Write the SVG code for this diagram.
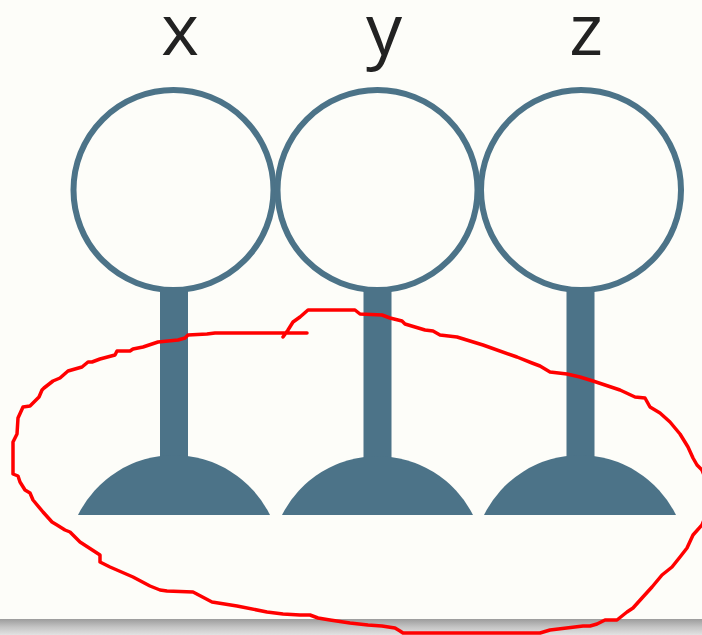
<svg xmlns="http://www.w3.org/2000/svg" width="702" height="635" viewBox="0 0 702 635">
  <defs>
    <linearGradient id="barGrad" x1="0" y1="0" x2="0" y2="1">
      <stop offset="0" stop-color="#9c9c9c"/>
      <stop offset="0.5" stop-color="#c4c4c4"/>
      <stop offset="1" stop-color="#e2e2e2"/>
    </linearGradient>
    <style>
      .ring { fill: none; stroke: #4c7388; stroke-width: 6; }
      .solid { fill: #4c7388; }
      .label { font-family: "Open Sans", "DejaVu Sans", sans-serif; font-size: 72px; fill: #222222; text-anchor: middle; }
      .mark { fill: none; stroke: #ff0000; stroke-width: 3.5; stroke-linejoin: round; stroke-linecap: round; }
    </style>
  </defs>
  <rect x="0" y="0" width="702" height="635" fill="#fdfdf9"/>
  <rect x="0" y="619" width="702" height="16" fill="url(#barGrad)"/>

  <g id="node-x">
    <text class="label" x="180" y="55">x</text>
    <circle class="ring" cx="173.5" cy="190" r="100"/>
    <rect class="solid" x="160" y="290" width="28" height="170"/>
    <path class="solid" d="M78 515 A107 107 0 0 1 270 515 Z"/>
  </g>
  <g id="node-y">
    <text class="label" x="384" y="55">y</text>
    <circle class="ring" cx="377.5" cy="190" r="100"/>
    <rect class="solid" x="363.5" y="290" width="28" height="170"/>
    <path class="solid" d="M282 515 A107 107 0 0 1 473 515 Z"/>
  </g>
  <g id="node-z">
    <text class="label" x="586" y="55">z</text>
    <circle class="ring" cx="581" cy="190" r="100"/>
    <rect class="solid" x="566.5" y="290" width="28" height="170"/>
    <path class="solid" d="M484 515 A107 107 0 0 1 676 515 Z"/>
  </g>

  <g id="connectors">
    <path class="mark" d="M307 333 L215 333 L207 334 L188 335 L185 338 L178 340 L158 342 L143 347 L133 349 L130 351 L117 351 L115 355 L100 359 L92 362 L88 362 L82 367 L68 371 L60 378 L53 381 L44 388 L42 390 L39 397 L30 406 L23 407 L18 418 L17 434 L13 442 L13 474 L18 476 L20 482 L25 490 L30 493 L33 500 L43 512 L52 522 L57 525 L65 530 L70 532 L80 542 L100 555 L100 562 L110 567 L133 577 L150 586 L160 590 L167 591 L193 592 L212 602 L237 606 L267 612 L283 614 L300 615 L310 615 L318 618 L330 620 L350 623 L368 625 L382 626 L395 628 L400 631 L403 633 L540 633 L550 630 L583 626 L590 626 L597 624 L605 620 L617 620 L627 612 L633 608 L642 598 L652 587 L662 575 L672 567 L680 557 L687 548 L693 535 L702 525 L708 510 L708 485 L702 470 L697 465 L693 458 L688 447 L680 434 L670 422 L660 413 L650 407 L645 398 L635 397 L620 390 L593 381 L580 377 L567 374 L550 372 L540 366 L532 363 L517 357 L483 345 L457 337 L440 335 L433 331 L425 330 L405 324 L402 321 L390 318 L382 315 L360 314 L355 310 L308 310 L300 317 L293 322 L288 330 L283 337"/>
  </g>
</svg>
